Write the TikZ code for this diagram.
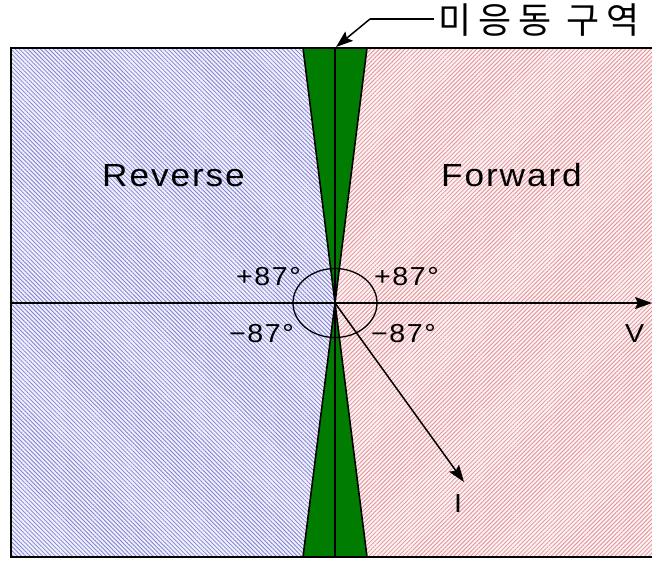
\documentclass[tikz,border=0pt]{standalone}
\usepackage{fontspec}
\setmainfont{Liberation Sans}
\newfontfamily\lbl[LetterSpace=6,FakeStretch=1.1]{Liberation Sans}
\newfontfamily\kr{Noto Sans CJK KR}
\usetikzlibrary{patterns.meta,arrows.meta}
\definecolor{revbg}{RGB}{240,240,252}
\definecolor{revln}{RGB}{130,130,210}
\definecolor{fwdbg}{RGB}{253,242,242}
\definecolor{fwdln}{RGB}{225,145,152}
\definecolor{dzgreen}{RGB}{0,125,0}
\newcommand{\kg}{\kern7pt}
\tikzset{
  bigtxt/.style={font=\lbl\fontsize{32}{36}\selectfont, inner sep=0pt},
  angtxt/.style={font=\lbl\fontsize{26}{30}\selectfont, inner sep=0pt},
  deadzone/.style={fill=dzgreen, draw=black, line width=1.6pt, line join=miter},
  arr/.style={-{Stealth[length=17pt,width=12pt,inset=3pt]}, line width=1.5pt},
}
\begin{document}
\begin{tikzpicture}[x=1pt,y=-1pt]
\useasboundingbox (0,0) rectangle (652,560);
\begin{scope}
\clip (0,0) rectangle (652,560);
% backgrounds
\fill[revbg] (11,48) rectangle (335,557);
\fill[fwdbg] (335,48) rectangle (660,557);
\fill[pattern={Lines[angle=-45,distance=3pt,line width=0.8pt]}, pattern color=revln] (11,48) rectangle (335,557);
\fill[pattern={Lines[angle=45,distance=3pt,line width=0.8pt]}, pattern color=fwdln] (335,48) rectangle (660,557);
% frame
\draw[line width=1.8pt] (660,48) -- (11,48) -- (11,557) -- (660,557);
% coordinates
\coordinate (O) at (335,303);
\coordinate (TL) at (303,48);
\coordinate (TR) at (367,48);
\coordinate (BL) at (303,557);
\coordinate (BR) at (367,557);
\coordinate (Tc) at (335,48);
\coordinate (Bc) at (335,557);
\coordinate (Ax0) at (11,303);
\coordinate (Ax1) at (652,303);
\coordinate (Itip) at (464,482);
% dead zone
\draw[deadzone] (TL) -- (TR) -- (O) -- cycle;
\draw[deadzone] (BL) -- (BR) -- (O) -- cycle;
\draw[line width=1.6pt] (Tc) -- (Bc);
% axis
\draw[arr] (Ax0) -- (Ax1);
% ellipse
\draw[line width=1.3pt] (O) ellipse [x radius=42, y radius=34.5];
% current vector
\draw[arr] (O) -- (Itip);
\end{scope}
% texts
\node[bigtxt, anchor=base west] (rev) at (102,186) {Reverse};
\node[bigtxt, anchor=base west] (fwd) at (441,186) {Forward};
\node[angtxt, anchor=base west] (p1) at (236,285) {+87°};
\node[angtxt, anchor=base west] (p2) at (374,285) {+87°};
\node[angtxt, anchor=base west] (m1) at (229,342) {−87°};
\node[angtxt, anchor=base west] (m2) at (371,342) {−87°};
\node[angtxt, anchor=base west] (V) at (625,342) {V};
\node[angtxt, anchor=base west] (I) at (454,512) {I};
\node[font=\kr\fontsize{36}{40}\selectfont, inner sep=0pt, anchor=west] (kr) at (438,20) {미\kg 응\kg 동\kg\ 구\kg 역};
\coordinate (L1) at (370,19);
\coordinate (Ltip) at (336,47);
\draw[line width=1.5pt] (kr.west) ++(-4,-1) -- (L1);
\draw[arr] (L1) -- (Ltip);
\end{tikzpicture}
\end{document}
